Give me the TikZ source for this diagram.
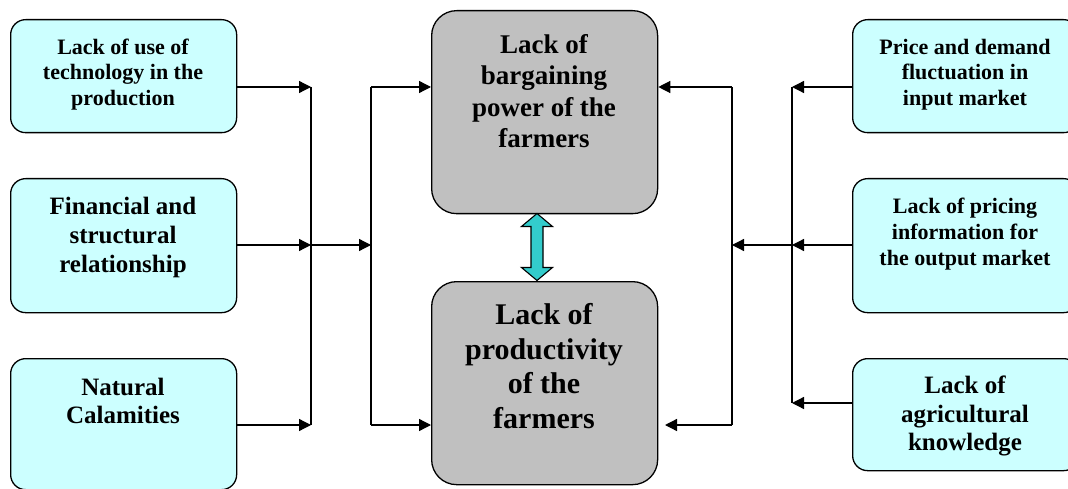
\documentclass[tikz,border=0pt]{standalone}
\usepackage{fontspec}
\setmainfont{Liberation Serif}
\usetikzlibrary{arrows.meta,calc}
\definecolor{cyanfill}{HTML}{CCFFFF}
\definecolor{grayfill}{HTML}{C0C0C0}
\definecolor{tealfill}{HTML}{33CCCC}
\begin{document}
\begin{tikzpicture}[x=1pt,y=-1pt,
  cbox/.style={draw, line width=1.3pt, rounded corners=15pt, fill=cyanfill, minimum width=226pt, anchor=north west, inner sep=0pt},
  gbox/.style={draw, line width=1.3pt, rounded corners=25pt, fill=grayfill, minimum width=226pt, minimum height=203pt, anchor=north west, inner sep=0pt},
  txt/.style={align=center, inner sep=0pt},
  arr/.style={line width=1.3pt, -{Triangle[length=12pt,width=12pt]}},
  ln/.style={line width=1.3pt}]
\clip (0,0) rectangle (1068,489);
\fill[white] (0,0) rectangle (1068,489);
% left boxes
\node[cbox, minimum height=113pt] (l1) at (10,19) {};
\node[cbox, minimum height=134pt] (l2) at (10,178) {};
\node[cbox, minimum height=131pt] (l3) at (10,358) {};
\node[txt, font=\bfseries\fontsize{22}{25.5}\selectfont] (tl1) at (123,74.3) {Lack of use of\\technology in the\\production};
\node[txt, font=\bfseries\fontsize{25}{29}\selectfont] (tl2) at (123,237) {Financial and\\structural\\relationship};
\node[txt, font=\bfseries\fontsize{25}{28}\selectfont] (tl3) at (123,400.5) {Natural\\Calamities};
% right boxes
\node[cbox, minimum height=113pt] (r1) at (852,19) {};
\node[cbox, minimum height=134pt] (r2) at (852,178) {};
\node[cbox, minimum height=112pt] (r3) at (852,358) {};
\node[txt, font=\bfseries\fontsize{22}{25.5}\selectfont] (tr1) at (965,74.5) {Price and demand\\fluctuation in\\input market};
\node[txt, font=\bfseries\fontsize{22}{26}\selectfont] (tr2) at (965,234) {Lack of pricing\\information for\\the output market};
\node[txt, font=\bfseries\fontsize{25}{28.5}\selectfont] (tr3) at (965,416) {Lack of\\agricultural\\knowledge};
% centre boxes
\node[gbox] (gt) at (431,10) {};
\node[gbox] (gb) at (431,281) {};
\node[txt, font=\bfseries\fontsize{27}{31.5}\selectfont] (tgt) at (544,91) {Lack of\\bargaining\\power of the\\farmers};
\node[txt, font=\bfseries\fontsize{30}{34.5}\selectfont] (tgb) at (544,366) {Lack of\\productivity\\of the\\farmers};
% bus coordinates
\coordinate (a1) at (311,87);
\coordinate (a2) at (311,245);
\coordinate (a3) at (311,425);
\coordinate (b1) at (371,87);
\coordinate (b2) at (371,245);
\coordinate (b3) at (371,425);
\coordinate (c1) at (792,87);
\coordinate (c2) at (792,245);
\coordinate (c3) at (792,403);
\coordinate (d1) at (732,87);
\coordinate (d2) at (732,245);
\coordinate (d3) at (732,425);
\coordinate (e3) at (665,425);
% left connectors
\draw[arr] (l1.east |- a1) -- (a1);
\draw[arr] (l2.east |- a2) -- (a2);
\draw[arr] (l3.east |- a3) -- (a3);
\draw[ln] (a1) -- (a3);
\draw[arr] (a2) -- (b2);
\draw[ln] (b1) -- (b3);
\draw[arr] (b1) -- (gt.west |- b1);
\draw[arr] (b3) -- (gb.west |- b3);
% right connectors
\draw[arr] (r1.west |- c1) -- (c1);
\draw[arr] (r2.west |- c2) -- (c2);
\draw[arr] (r3.west |- c3) -- (c3);
\draw[ln] (c1) -- (c3);
\draw[arr] (c2) -- (d2);
\draw[ln] (d1) -- (d3);
\draw[arr] (d1) -- (gt.east |- d1);
\draw[arr] (d3) -- (e3);
% double arrow between centre boxes
\coordinate (dt) at (537,213.5);
\coordinate (db) at (537,280.5);
\draw[line width=1.1pt, fill=tealfill, line join=miter]
  (dt) -- ++(15.5,13) -- ++(-9.5,0) -- ($(db)+(6,-13)$) -- ++(9.5,0) -- (db)
  -- ++(-15.5,-13) -- ++(9.5,0) -- ($(dt)+(-6,13)$) -- ++(-9.5,0) -- cycle;
\end{tikzpicture}
\end{document}
